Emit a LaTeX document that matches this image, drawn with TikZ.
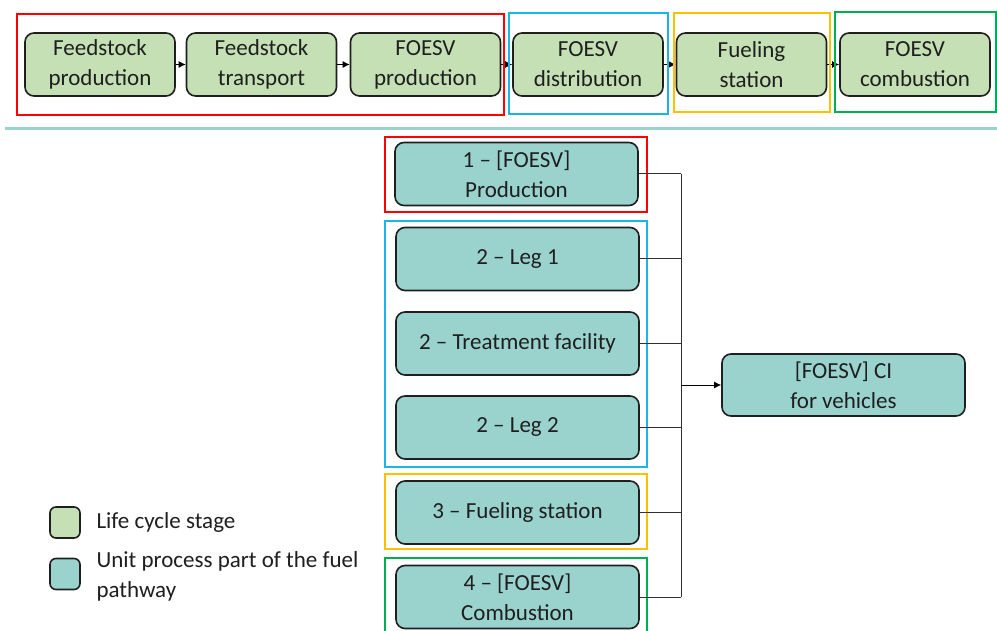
\documentclass[tikz,border=0pt]{standalone}
\usepackage{fontspec}
\setmainfont{Carlito}
\usetikzlibrary{arrows.meta}
\definecolor{stagefill}{HTML}{C5E0B4}
\definecolor{unitfill}{HTML}{9AD3CE}
\definecolor{boxline}{HTML}{1F1F1F}
\definecolor{frred}{HTML}{FF0000}
\definecolor{frblue}{HTML}{1CB4EC}
\definecolor{frorange}{HTML}{FFC000}
\definecolor{frgreen}{HTML}{00B050}
\definecolor{sepline}{HTML}{9AD3CE}
\definecolor{wire}{HTML}{303030}
\begin{document}
\begin{tikzpicture}[x=1pt,y=-1pt,
  font=\fontsize{23}{30}\selectfont,
  basebox/.style={draw=boxline, line width=1.6pt, rounded corners=9pt, align=center,
    inner sep=0pt, text=black!88},
  stagebox/.style={basebox, fill=stagefill, minimum width=150pt, minimum height=63pt},
  unitbox/.style={basebox, fill=unitfill, minimum width=243pt, minimum height=63pt},
  legbox/.style={draw=boxline, line width=1.6pt, rounded corners=6pt, minimum width=30pt,
    minimum height=31pt, inner sep=0pt},
  frame/.style={line width=1.8pt},
  stepline/.style={draw=black, line width=1pt, -{Latex[length=7pt,width=7pt]}},
  wireline/.style={draw=wire, line width=1pt},
]
\useasboundingbox (0,0) rectangle (997,631);
\fill[white] (0,0) rectangle (997,631);

% life cycle stages
\node[stagebox] (s1) at (100,64.5) {Feedstock\\production};
\node[stagebox] (s2) at (261.5,64.5) {Feedstock\\transport};
\node[stagebox] (s3) at (425.5,64.5) {FOESV\\production};
\node[stagebox] (s4) at (588,64.5) {FOESV\\distribution};
\node[stagebox] (s5) at (751.5,64.5) {Fueling\\station};
\node[stagebox] (s6) at (915,64.5) {FOESV\\combustion};
\foreach \a/\b in {s1/s2,s2/s3,s3/s4,s4/s5,s5/s6}
  \draw[stepline] (\a.east) -- (\b.west);

% stage groups
\draw[frame, frred] (17,14) rectangle (504,115);
\draw[frame, frblue] (509,13) rectangle (668,114);
\draw[frame, frorange] (674,13) rectangle (830,112);
\draw[frame, frgreen] (835,12) rectangle (996,112);

% separator
\draw[sepline, line width=3pt] (5,128.5) -- (997,128.5);

% unit processes
\node[unitbox] (p1) at (516.5,174) {1 -- [FOESV]\\Production};
\node[unitbox] (p2) at (517.5,259) {2 -- Leg 1};
\node[unitbox] (p3) at (517.5,343.5) {2 -- Treatment facility};
\node[unitbox] (p4) at (517.5,427.5) {2 -- Leg 2};
\node[unitbox] (p5) at (517.5,512.5) {3 -- Fueling station};
\node[unitbox] (p6) at (517.5,597) {4 -- [FOESV]\\Combustion};
\node[unitbox, minimum height=62pt] (res) at (843.5,385) {[FOESV] CI\\for vehicles};

% unit process groups
\draw[frame, frred] (385,137) rectangle (647,212);
\draw[frame, frblue] (385,221) rectangle (647,467);
\draw[frame, frorange] (385,474) rectangle (647,549);
\draw[frame, frgreen] (385,558) rectangle (647,635);

% collector bus
\coordinate (bus) at (681,385);
\foreach \p in {p1,p2,p3,p4,p5,p6}
  \draw[wireline] (\p.east) -- (\p.east -| bus);
\draw[wireline] (p1.east -| bus) -- (p6.east -| bus);
\draw[stepline] (bus) -- (res.west);

% legend
\node[legbox, fill=stagefill] (lg1) at (65,522.5) {};
\node[legbox, fill=unitfill] (lg2) at (65,574) {};
\node[anchor=west, text=black!88] (lt1) at (93,522) {Life cycle stage};
\node[anchor=west, align=left, text=black!88] (lt2) at (93,576) {Unit process part of the fuel\\pathway};
\end{tikzpicture}
\end{document}
